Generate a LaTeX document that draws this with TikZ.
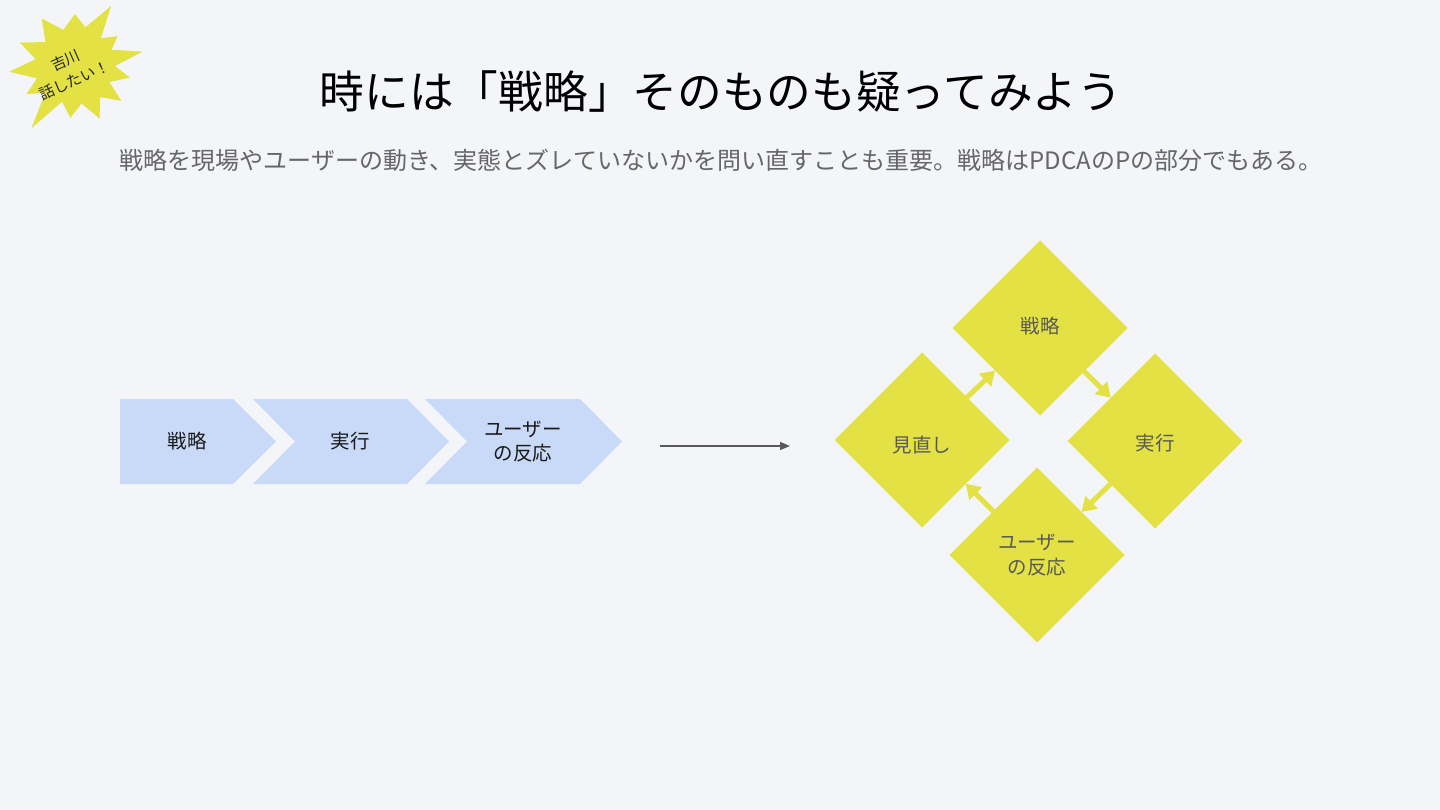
\documentclass[tikz,border=0pt]{standalone}
\usepackage{fontspec}
\setmainfont{Noto Sans CJK JP}
\usetikzlibrary{shapes.geometric,arrows.meta}
\definecolor{bg}{HTML}{F3F5F9}
\definecolor{chev}{HTML}{C9DAF8}
\definecolor{ylw}{HTML}{E3E144}
\definecolor{gtext}{HTML}{666666}
\definecolor{dtext}{HTML}{595959}
\tikzset{
  ctext/.style={font=\fontsize{19.5}{24}\selectfont, text=black!90, align=center, inner sep=0},
  dia/.style={diamond, aspect=1, fill=ylw, minimum width=175pt, minimum height=175pt, inner sep=0, outer sep=0,
              font=\fontsize{19.5}{25}\selectfont, text=dtext, align=center},
  dlabel/.style={font=\fontsize{19.5}{25}\selectfont, text=dtext, align=center, inner sep=0},
  yarrow/.style={draw=ylw, line width=5pt, -{Triangle[length=14pt,width=17pt]}},
  garrow/.style={draw=black!65, line width=1.5pt, -{Triangle[length=10pt,width=8pt]}},
}
\begin{document}
\begin{tikzpicture}[x=1pt,y=-1pt]
\useasboundingbox (0,0) rectangle (1440,810);
\fill[bg] (0,0) rectangle (1440,810);

% starburst
\begin{scope}[shift={(75,66)}]
\fill[ylw] (-12:69) -- (-24:40) -- (-35:52) -- (-47:38) -- (-59:70) -- (-75:40) -- (-90:52) -- (-108:38)
  -- (-125:58) -- (-141:38) -- (-157:60) -- (-170:40) -- (175:66) -- (162:40) -- (150:56) -- (138:40)
  -- (125:76) -- (110:38) -- (95:52) -- (80:38) -- (65:58) -- (51:40) -- (37:58) -- (25:38) -- (12:56) -- (0:40) -- cycle;
\end{scope}
\node[font=\fontsize{15}{22}\selectfont, align=center, rotate=24, text=black!85, inner sep=0] (burst) at (70,70) {吉川\\話したい！};

% title
\node[font=\fontsize{44.7}{50}\selectfont, text=black] (title) at (721,92) {時には「戦略」そのものも疑ってみよう};
\node[font=\fontsize{24}{28}\selectfont, text=gtext] (sub) at (721,160) {戦略を現場やユーザーの動き、実態とズレていないかを問い直すことも重要。戦略はPDCAのPの部分でもある。};

% chevrons
\fill[chev] (120,399) -- (233,399) -- (276,441.5) -- (233,484) -- (120,484) -- cycle;
\fill[chev] (253,399) -- (407,399) -- (449,441.5) -- (407,484) -- (253,484) -- (295,441.5) -- cycle;
\fill[chev] (425,399) -- (580,399) -- (622,441.5) -- (580,484) -- (425,484) -- (467,441.5) -- cycle;
\node[ctext] (c1) at (187,441) {戦略};
\node[ctext] (c2) at (350,441) {実行};
\node[ctext] (c3) at (523,442) {ユーザー\\の反応};

% arrow
\coordinate (a1) at (660,446);
\coordinate (a2) at (790,446);
\draw[garrow] (a1) -- (a2);

% diamonds
\node[dia] (top) at (1040,328) {};
\node[dia] (right) at (1155,441) {};
\node[dia] (left) at (922,440) {};
\node[dia] (bottom) at (1037,555) {};
\node[dlabel] (ttop) at (1040,326) {戦略};
\node[dlabel] (tright) at (1155,443) {実行};
\node[dlabel] (tleft) at (922,445) {見直し};
\node[dlabel] (tbottom) at (1037,555) {ユーザー\\の反応};

\draw[yarrow] (left) -- (top);
\draw[yarrow] (top) -- (right);
\draw[yarrow] (right) -- (bottom);
\draw[yarrow] (bottom) -- (left);
\end{tikzpicture}
\end{document}
